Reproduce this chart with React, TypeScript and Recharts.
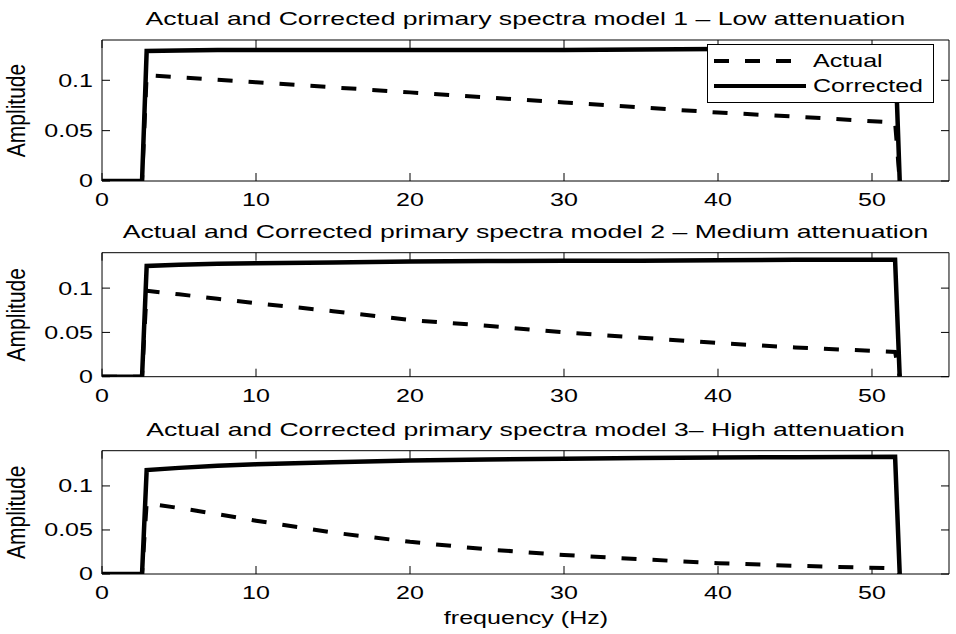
import React from 'react';
import { LineChart, Line, XAxis, YAxis, Legend } from 'recharts';

// frequency samples (Hz) shared by all three models
const freq = [0, 2.6, 2.9, 5, 7.5, 10, 15, 20, 25, 30, 35, 40, 45, 51.5, 51.8];

const actual1 = [0, 0, 0.105, 0.103, 0.1005, 0.098, 0.093, 0.088, 0.083, 0.078, 0.073, 0.068, 0.064, 0.058, 0];
const corrected1 = [0, 0, 0.129, 0.1295, 0.13, 0.13, 0.13, 0.13, 0.13, 0.13, 0.1305, 0.131, 0.131, 0.131, 0];

const actual2 = [0, 0, 0.097, 0.093, 0.088, 0.083, 0.074, 0.064, 0.0575, 0.05, 0.044, 0.038, 0.033, 0.028, 0];
const corrected2 = [0, 0, 0.125, 0.1265, 0.1275, 0.128, 0.129, 0.13, 0.1305, 0.131, 0.131, 0.1315, 0.132, 0.132, 0];

const actual3 = [0, 0, 0.08, 0.075, 0.068, 0.0605, 0.047, 0.0365, 0.028, 0.0216, 0.0167, 0.0123, 0.0093, 0.0064, 0];
const corrected3 = [0, 0, 0.118, 0.1205, 0.1228, 0.1245, 0.127, 0.1288, 0.13, 0.131, 0.1318, 0.1323, 0.1327, 0.133, 0];

const titles = [
  'Actual and Corrected primary spectra model 1 – Low attenuation',
  'Actual and Corrected primary spectra model 2 – Medium attenuation',
  'Actual and Corrected primary spectra model 3– High attenuation',
];

const xTicks = [0, 10, 20, 30, 40, 50];
const yTicks = [0, 0.05, 0.1];

const FONT = '"Liberation Sans", Arial, Helvetica, sans-serif';
const FS = 19;
const SX = 1.32; // the scanned figure is stretched sideways

const buildRows = (actual: number[], corrected: number[]) =>
  freq.map((f, i) => ({ f, actual: actual[i], corrected: corrected[i] }));

const LeftTick = (props: any) => {
  const { x, y, payload } = props;
  return (
    <g>
      <line x1={x} y1={y} x2={x + 8} y2={y} stroke="#000" />
      <text
        transform={`translate(${x - 9},${y}) scale(${SX},1)`}
        textAnchor="end"
        dominantBaseline="central"
        fontSize={FS}
        fontFamily={FONT}
        fill="#000"
      >
        {String(payload.value)}
      </text>
    </g>
  );
};

const RightTick = (props: any) => {
  const { x, y } = props;
  return <line x1={x} y1={y} x2={x - 8} y2={y} stroke="#000" />;
};

const BottomTick = (props: any) => {
  const { x, y, payload } = props;
  return (
    <g>
      <line x1={x} y1={y} x2={x} y2={y - 8} stroke="#000" />
      <text
        transform={`translate(${x},${y + 19}) scale(${SX},1)`}
        textAnchor="middle"
        dominantBaseline="central"
        fontSize={FS}
        fontFamily={FONT}
        fill="#000"
      >
        {String(payload.value)}
      </text>
    </g>
  );
};

const TopTick = (props: any) => {
  const { x, y } = props;
  return <line x1={x} y1={y} x2={x} y2={y + 8} stroke="#000" />;
};

const LegendBox = (props: any) => {
  const items = props.payload || [];
  return (
    <svg width={227} height={59} style={{ display: 'block' }}>
      <rect x={0.5} y={0.5} width={226} height={58} fill="#fff" stroke="#000" />
      {items.map((entry: any, i: number) => {
        const cy = 17 + i * 25;
        return (
          <g key={entry.value}>
            <line
              x1={7}
              y1={cy}
              x2={99}
              y2={cy}
              stroke="#000"
              strokeWidth={4}
              strokeDasharray={entry.value === 'Actual' ? '15 16' : undefined}
            />
            <text
              transform={`translate(106,${cy}) scale(${SX},1)`}
              dominantBaseline="central"
              fontSize={FS}
              fontFamily={FONT}
            >
              {entry.value}
            </text>
          </g>
        );
      })}
    </svg>
  );
};

interface PanelProps {
  top: number;
  boxTop: number;
  boxBottom: number;
  actual: number[];
  corrected: number[];
  legend?: boolean;
}

const Panel = ({ top, boxTop, boxBottom, actual, corrected, legend }: PanelProps) => {
  const height = boxBottom - top + 45;
  return (
    <div style={{ position: 'absolute', left: 0, top }}>
      <LineChart
        width={956}
        height={height}
        data={buildRows(actual, corrected)}
        margin={{ top: boxTop - top - 1, right: 6, bottom: 44, left: 101 }}
      >
        <XAxis
          dataKey="f"
          type="number"
          domain={[0, 55]}
          ticks={xTicks}
          allowDataOverflow
          height={1}
          tickSize={0}
          tickMargin={0}
          tick={BottomTick}
          axisLine={{ stroke: '#000' }}
        />
        <XAxis
          xAxisId="top"
          dataKey="f"
          type="number"
          orientation="top"
          domain={[0, 55]}
          ticks={xTicks}
          allowDataOverflow
          height={1}
          tickSize={0}
          tickMargin={0}
          tick={TopTick}
          axisLine={{ stroke: '#000' }}
        />
        <YAxis
          type="number"
          domain={[0, 0.14]}
          ticks={yTicks}
          allowDataOverflow
          width={1}
          tickSize={0}
          tickMargin={0}
          tick={LeftTick}
          axisLine={{ stroke: '#000' }}
        />
        <YAxis
          yAxisId="right"
          type="number"
          orientation="right"
          domain={[0, 0.14]}
          ticks={yTicks}
          allowDataOverflow
          width={1}
          tickSize={0}
          tickMargin={0}
          tick={RightTick}
          axisLine={{ stroke: '#000' }}
        />
        <Line
          type="linear"
          dataKey="actual"
          name="Actual"
          stroke="#000"
          strokeWidth={4}
          strokeDasharray="15 16"
          dot={false}
          isAnimationActive={false}
        />
        <Line
          type="linear"
          dataKey="corrected"
          name="Corrected"
          stroke="#000"
          strokeWidth={4.5}
          dot={false}
          isAnimationActive={false}
        />
        {legend && (
          <Legend
            layout="vertical"
            align="center"
            verticalAlign="middle"
            content={LegendBox}
            wrapperStyle={{ left: 707, top: 44 - top, width: 227, height: 59 }}
          />
        )}
      </LineChart>
    </div>
  );
};

const panels = [
  { top: 0, boxTop: 40, boxBottom: 181, actual: actual1, corrected: corrected1, legend: true },
  { top: 205, boxTop: 252.7, boxBottom: 376.7, actual: actual2, corrected: corrected2 },
  { top: 400, boxTop: 450.7, boxBottom: 574, actual: actual3, corrected: corrected3 },
];

export default function App() {
  return (
    <div style={{ position: 'absolute', left: 0, top: 0, width: 956, height: 634, background: '#fff' }}>
      {panels.map((p, i) => (
        <Panel key={i} {...p} />
      ))}
      <svg
        width={956}
        height={634}
        style={{ position: 'absolute', left: 0, top: 0, pointerEvents: 'none' }}
      >
        {panels.map((p, i) => (
          <g key={i} fontFamily={FONT} fill="#000">
            <text
              transform={`translate(525.5,${p.boxTop - 15}) scale(1.4,1)`}
              textAnchor="middle"
              fontSize={FS}
            >
              {titles[i]}
            </text>
            <text
              transform={`translate(25,${(p.boxTop + p.boxBottom) / 2}) scale(1.2,1) rotate(-90)`}
              textAnchor="middle"
              fontSize={21}
            >
              Amplitude
            </text>
          </g>
        ))}
        <text
          transform={`translate(526,624) scale(${SX},1)`}
          textAnchor="middle"
          fontFamily={FONT}
          fontSize={FS}
        >
          frequency (Hz)
        </text>
      </svg>
    </div>
  );
}
